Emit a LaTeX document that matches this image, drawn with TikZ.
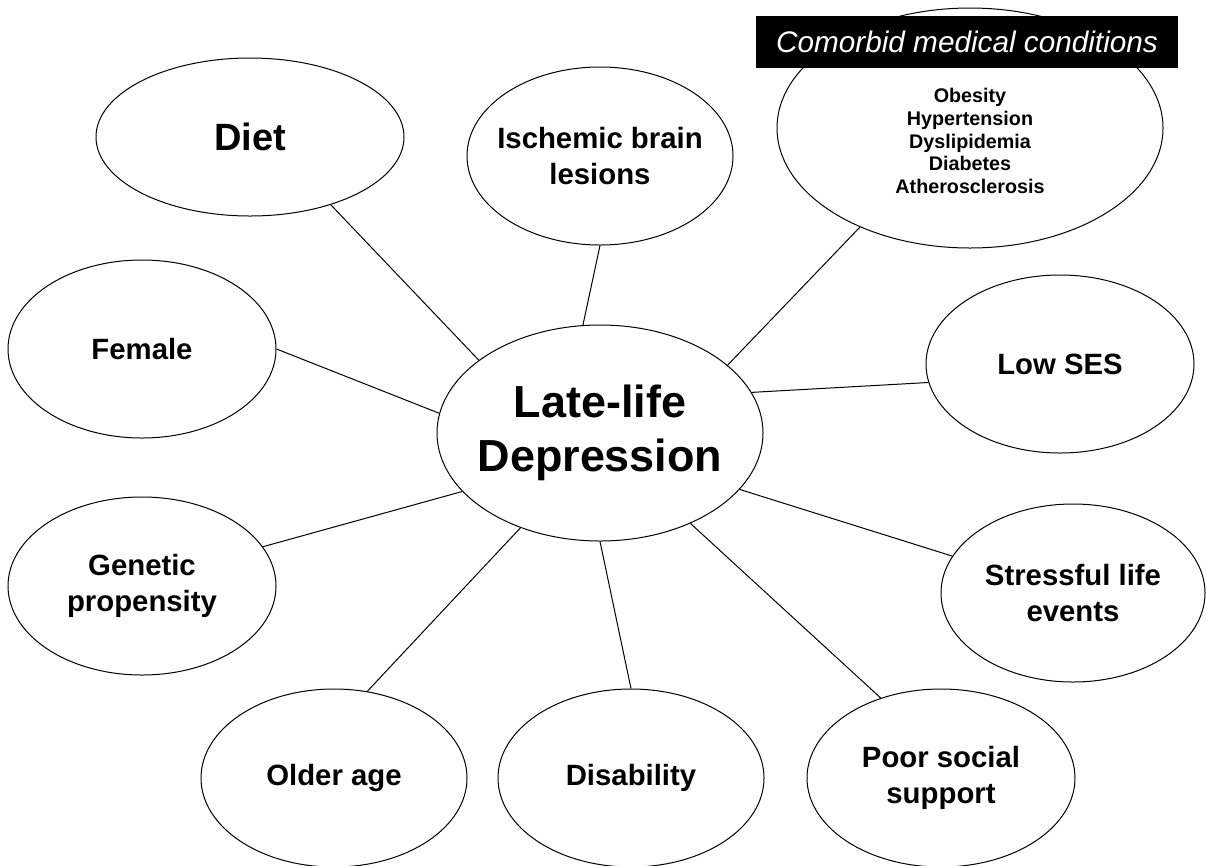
\documentclass[tikz,border=0pt]{standalone}
\usepackage{fontspec}
\setmainfont{Liberation Sans}
\usetikzlibrary{shapes.geometric}

\tikzset{every picture/.style={line width=0.75pt}}
\tikzset{
  factor/.style={draw, ellipse, inner sep=-30pt, align=center,
    font=\bfseries\fontsize{22}{27}\selectfont,
    minimum width=201pt, minimum height=133.5pt},
  link/.style={draw, line width=0.75pt},
}

\begin{document}
\begin{tikzpicture}[x=0.75pt,y=0.75pt,yscale=-1,xscale=1]
%set diagram left start at 0, and has height of 865
\useasboundingbox (0,0) rectangle (1206,865);
\fill[white] (0,0) rectangle (1206,865);

%Shape: Ellipse [id:lld]
\node [factor, minimum width=244.5pt, minimum height=162pt, font=\bfseries\fontsize{33.7}{40.5}\selectfont] (lld) at (600,433) {Late-life\\Depression};
%Shape: Ellipse [id:diet]
\node [factor, minimum width=231pt, minimum height=118.5pt, font=\bfseries\fontsize{28.5}{34}\selectfont] (diet) at (250,137) {Diet};
%Shape: Ellipse [id:ischemic]
\node [factor, minimum width=199.5pt] (ischemic) at (600,156) {Ischemic brain\\lesions};
%Shape: Ellipse [id:comorbid]
\node [factor, minimum width=289.5pt, minimum height=180pt] (comorbid) at (970,128) {};
%Shape: Ellipse [id:female]
\node [factor] (female) at (142,349) {Female};
%Shape: Ellipse [id:genetic]
\node [factor] (genetic) at (142,586) {Genetic\\propensity};
%Shape: Ellipse [id:lowses]
\node [factor] (lowses) at (1060,364) {Low SES};
%Shape: Ellipse [id:stressful]
\node [factor, minimum width=198pt] (stressful) at (1073,593) {Stressful life\\events};
%Shape: Ellipse [id:older]
\node [factor, minimum width=199.5pt] (older) at (334,778) {Older age};
%Shape: Ellipse [id:disability]
\node [factor, minimum width=199.5pt] (disability) at (631,778) {Disability};
%Shape: Ellipse [id:poorsocial]
\node [factor] (poorsocial) at (941,778) {Poor social\\support};

% Text Node
\node [align=center, inner sep=0.75pt, font=\bfseries\fontsize{14.8}{17}\selectfont] (comorbidlist) at (970,141) {Obesity\\Hypertension\\Dyslipidemia\\Diabetes\\Atherosclerosis};
% Text Node
\node [fill=black, text=white, inner sep=0pt, minimum width=316.5pt, minimum height=39pt, font=\itshape\fontsize{22.3}{26}\selectfont] (comorbidtitle) at (967,42) {Comorbid medical conditions};

%Straight Lines
\draw [link] (diet.-40) -- (lld.149);
\draw [link] (ischemic.-90) -- (lld.99);
\draw [link] (comorbid.222.5) -- (lld.28.7);
\draw [link] (female.0) -- (lld.173.2);
\draw [link] (lowses.188.6) -- (lld.15.4);
\draw [link] (genetic.18.9) -- (lld.203.2);
\draw [link] (stressful.163.4) -- (lld.-22.3);
\draw [link] (older.69) -- (lld.230.9);
\draw [link] (disability.90) -- (lld.270);
\draw [link] (poorsocial.127.8) -- (lld.-45.3);

\end{tikzpicture}
\end{document}
